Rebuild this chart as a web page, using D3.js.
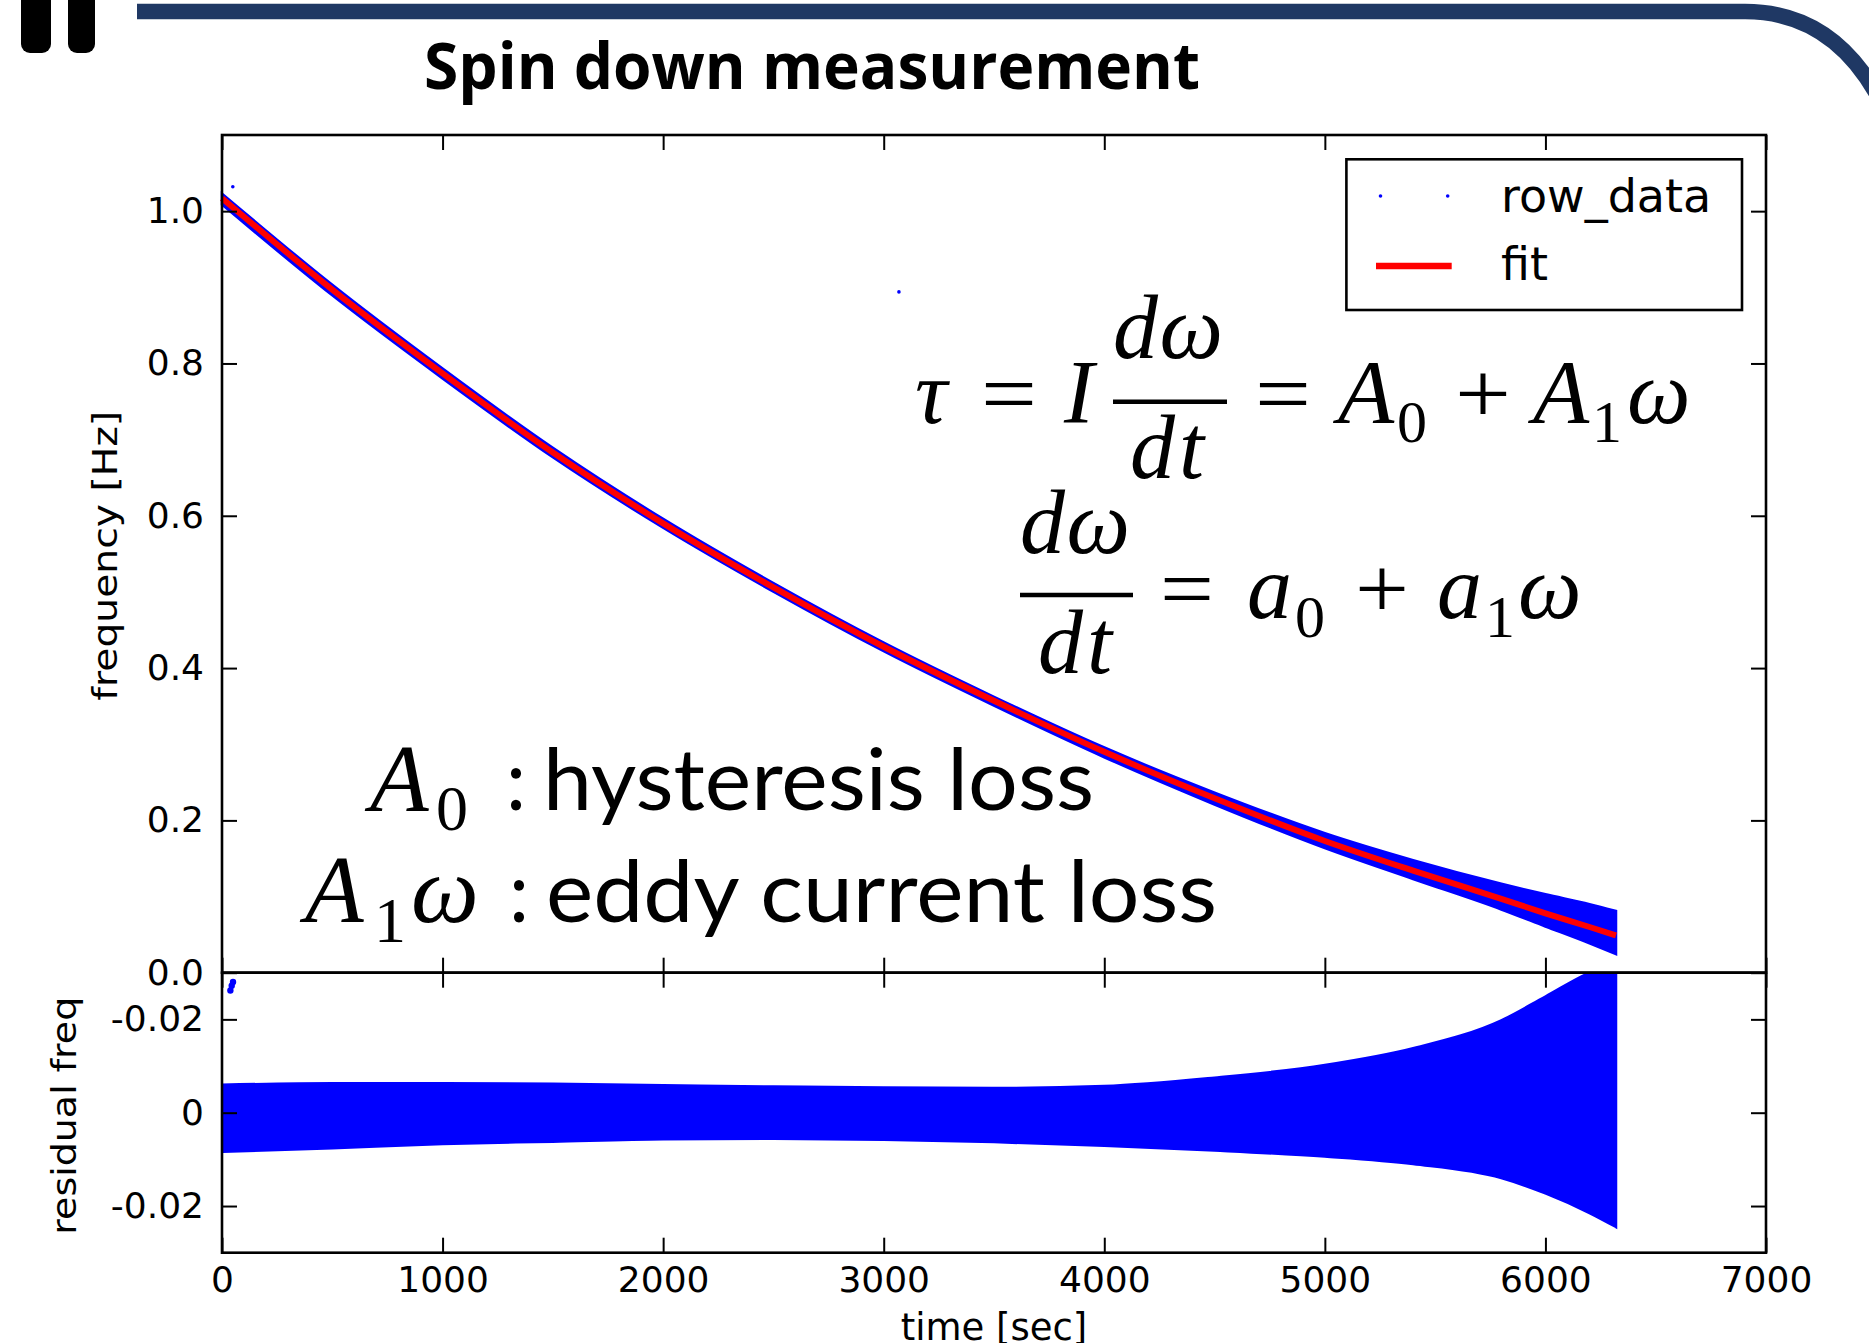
<!DOCTYPE html>
<html>
<head>
<meta charset="utf-8">
<script src="https://cdn.jsdelivr.net/npm/d3@7"></script>
<style>
  html, body { margin: 0; padding: 0; background: #fff; overflow: hidden; }
  svg { display: block; }
  text { font-family: "DejaVu Sans", sans-serif; fill: #000; }
</style>
</head>
<body>
<svg id="chart" width="1869" height="1343"></svg>
<script>
// ---- values ----
const timeSec  = [0, 500, 1000, 1500, 2000, 2500, 3000, 3500, 4000, 4500, 5000, 5400, 5800, 6000, 6200, 6320];
const fitFreq  = [1.017, 0.897, 0.787, 0.683, 0.590, 0.506, 0.428, 0.357, 0.290, 0.229, 0.173, 0.134, 0.097, 0.078, 0.060, 0.049];
// residual envelope (upper / lower edge of the blue band)
const resHigh  = [0.0060, 0.0063, 0.0063, 0.0062, 0.0059, 0.0056, 0.0054, 0.0053, 0.0057, 0.0075, 0.0102, 0.0138, 0.0198, 0.0249, 0.0300, 0.0320];
const resLow   = [-0.0084, -0.0076, -0.0067, -0.0062, -0.0057, -0.0056, -0.0058, -0.0063, -0.0071, -0.0081, -0.0094, -0.0110, -0.0140, -0.0173, -0.0215, -0.0245];
// stray samples
const strayT    = [49, 3069];
const strayFreq = [1.032, 0.894];
const strayResT = [38, 44, 50];
const strayRes  = [0.0262, 0.0272, 0.0280];

const timeTicks      = [0, 1000, 2000, 3000, 4000, 5000, 6000, 7000];
const freqTicks      = [0, 0.2, 0.4, 0.6, 0.8, 1.0];
const freqTickLabels = ["0.0", "0.2", "0.4", "0.6", "0.8", "1.0"];
const resTicks       = [-0.02, 0, 0.02];
const resTickLabels  = ["-0.02", "0", "-0.02"];

const svg = d3.select("#chart");
const W = 1869, H = 1343;
svg.append("rect").attr("width", W).attr("height", H).attr("fill", "#fff");

// ---- slide decoration ----
svg.append("path")
  .attr("d", "M137,11.5 L1745,11.5 Q1835,11.5 1882,104")
  .attr("fill", "none")
  .attr("stroke", "#1f3864")
  .attr("stroke-width", 15.5);
[[21, 30], [68, 27]].forEach(([x, w]) => {
  svg.append("rect").attr("x", x).attr("y", -20).attr("width", w).attr("height", 73)
    .attr("rx", 9).attr("fill", "#000");
});

svg.append("text")
  .attr("x", 424).attr("y", 89)
  .attr("textLength", 776).attr("lengthAdjust", "spacingAndGlyphs")
  .style("font-family", "'Open Sans', sans-serif")
  .style("font-weight", 700)
  .style("font-size", "64px")
  .text("Spin down measurement");

// ---- plot geometry ----
const L = 222, R = 1766, T = 135, M = 972.7, B = 1252.7;
const x  = d3.scaleLinear().domain([0, 7000]).range([L, R]);
const yF = d3.scaleLinear().domain([0, 1.1]).range([M, T]);
const yR = d3.scaleLinear().domain([-0.03, 0.03]).range([B, M]);

const idx = d3.range(timeSec.length);

svg.append("clipPath").attr("id", "clipRes")
  .append("rect").attr("x", L).attr("y", M).attr("width", R - L).attr("height", B - M);

// main panel: data band and fit
const bandMain = d3.area()
  .x(i => x(timeSec[i]))
  .y0(i => yF(fitFreq[i] + resLow[i]))
  .y1(i => yF(fitFreq[i] + resHigh[i]))
  .curve(d3.curveMonotoneX);
svg.append("path").datum(idx)
  .attr("d", bandMain)
  .attr("fill", "#0000ff").attr("stroke", "#0000ff").attr("stroke-width", 2.5);

svg.selectAll(".strayF").data(d3.range(strayT.length)).join("circle")
  .attr("cx", i => x(strayT[i])).attr("cy", i => yF(strayFreq[i]))
  .attr("r", 1.8).attr("fill", "#0000ff");

const fitLine = d3.line()
  .x(i => x(timeSec[i]))
  .y(i => yF(fitFreq[i]))
  .curve(d3.curveMonotoneX);
svg.append("path").datum(idx)
  .attr("d", fitLine)
  .attr("fill", "none").attr("stroke", "#ff0000").attr("stroke-width", 6);

// residual panel
const bandRes = d3.area()
  .x(i => x(timeSec[i]))
  .y0(i => yR(resLow[i]))
  .y1(i => yR(resHigh[i]))
  .curve(d3.curveMonotoneX);
const resG = svg.append("g").attr("clip-path", "url(#clipRes)");
resG.append("path").datum(idx)
  .attr("d", bandRes)
  .attr("fill", "#0000ff").attr("stroke", "#0000ff").attr("stroke-width", 2.5);
resG.selectAll(".strayR").data(d3.range(strayResT.length)).join("circle")
  .attr("cx", i => x(strayResT[i])).attr("cy", i => yR(strayRes[i]))
  .attr("r", 3.2).attr("fill", "#0000ff");

// ---- axes ----
const TK = 15;
function styleAxis(g) {
  g.select(".domain").remove();
  g.selectAll(".tick line").attr("stroke", "#000").attr("stroke-width", 2);
  g.selectAll(".tick text")
    .style("font-family", "'DejaVu Sans', sans-serif")
    .style("font-size", "36px")
    .attr("fill", "#1a1a1a");
}

svg.append("g").attr("transform", `translate(${L},0)`)
  .call(d3.axisLeft(yF).tickValues(freqTicks).tickSize(-TK).tickPadding(18)
    .tickFormat((d, i) => freqTickLabels[i]))
  .call(styleAxis);
svg.append("g").attr("transform", `translate(${R},0)`)
  .call(d3.axisRight(yF).tickValues(freqTicks).tickSize(-TK).tickFormat(""))
  .call(styleAxis);
svg.append("g").attr("transform", `translate(0,${T})`)
  .call(d3.axisTop(x).tickValues(timeTicks).tickSize(-TK).tickFormat(""))
  .call(styleAxis);
svg.append("g").attr("transform", `translate(0,${M})`)
  .call(d3.axisBottom(x).tickValues(timeTicks).tickSize(-TK).tickFormat(""))
  .call(styleAxis);

svg.append("g").attr("transform", `translate(${L},0)`)
  .call(d3.axisLeft(yR).tickValues(resTicks).tickSize(-TK).tickPadding(18)
    .tickFormat((d, i) => resTickLabels[i]))
  .call(styleAxis);
svg.append("g").attr("transform", `translate(${R},0)`)
  .call(d3.axisRight(yR).tickValues(resTicks).tickSize(-TK).tickFormat(""))
  .call(styleAxis);
svg.append("g").attr("transform", `translate(0,${M})`)
  .call(d3.axisTop(x).tickValues(timeTicks).tickSize(-TK).tickFormat(""))
  .call(styleAxis);
svg.append("g").attr("transform", `translate(0,${B})`)
  .call(d3.axisBottom(x).tickValues(timeTicks).tickSize(-TK).tickPadding(14)
    .tickFormat(d3.format("d")))
  .call(styleAxis);

// frames
[[T, M], [M, B]].forEach(([y0, y1]) => {
  svg.append("rect").attr("x", L).attr("y", y0).attr("width", R - L).attr("height", y1 - y0)
    .attr("fill", "none").attr("stroke", "#000").attr("stroke-width", 2.6);
});

// axis labels
svg.append("text")
  .attr("transform", `translate(117,${(T + M) / 2 + 2}) rotate(-90)`)
  .attr("text-anchor", "middle")
  .attr("textLength", 290).attr("lengthAdjust", "spacingAndGlyphs")
  .style("font-size", "34px").attr("fill", "#1a1a1a")
  .text("frequency [Hz]");
svg.append("text")
  .attr("transform", `translate(76,${(M + B) / 2 + 3}) rotate(-90)`)
  .attr("text-anchor", "middle")
  .attr("textLength", 238).attr("lengthAdjust", "spacingAndGlyphs")
  .style("font-size", "34px").attr("fill", "#1a1a1a")
  .text("residual freq");
svg.append("text")
  .attr("x", (L + R) / 2).attr("y", 1340)
  .attr("text-anchor", "middle")
  .style("font-size", "37px").attr("fill", "#1a1a1a")
  .text("time [sec]");

// ---- legend ----
const leg = svg.append("g");
leg.append("rect").attr("x", 1346.4).attr("y", 159.3).attr("width", 395.6).attr("height", 150.7)
  .attr("fill", "#fff").attr("stroke", "#000").attr("stroke-width", 2.6);
[1380.5, 1447.7].forEach(cx => leg.append("circle").attr("cx", cx).attr("cy", 196).attr("r", 1.8).attr("fill", "#0000ff"));
leg.append("line").attr("x1", 1376).attr("x2", 1451.7).attr("y1", 266).attr("y2", 266)
  .attr("stroke", "#ff0000").attr("stroke-width", 6.5);
leg.append("text").attr("x", 1501).attr("y", 211.7).style("font-size", "46px").attr("fill", "#1a1a1a").text("row_data");
leg.append("text").attr("x", 1501).attr("y", 280).style("font-size", "46px").attr("fill", "#1a1a1a").text("fit");

// ---- equations and notes ----
const MATH = "'Liberation Serif', 'DejaVu Serif', serif";
const SANS = "Lato, 'Open Sans', sans-serif";
function put(str, px, py, size, opt = {}) {
  const t = svg.append("text").attr("x", px).attr("y", py)
    .style("font-family", opt.sans ? SANS : MATH)
    .style("font-style", opt.italic ? "italic" : "normal")
    .style("font-size", size + "px")
    .text(str);
  if (opt.len) t.attr("textLength", opt.len).attr("lengthAdjust", opt.adj || "spacingAndGlyphs");
  return t;
}
function bar(x1, x2, yy) {
  svg.append("line").attr("x1", x1).attr("x2", x2).attr("y1", yy).attr("y2", yy)
    .attr("stroke", "#000").attr("stroke-width", 4.5);
}

// tau = I dw/dt = A0 + A1 w
put("τ", 915, 423, 90, {italic: true});
put("=", 981, 423, 86, {len: 56});
put("I", 1064, 423, 90, {italic: true});
put("dω", 1113, 358, 90, {italic: true, len: 110, adj: "spacing"});
bar(1113, 1227, 401.7);
put("dt", 1130, 478, 90, {italic: true, len: 74, adj: "spacing"});
put("=", 1255, 423, 86, {len: 56});
put("A", 1338, 423, 92, {italic: true});
put("0", 1397, 441.5, 60);
put("+", 1455, 423, 86, {len: 56});
put("A", 1533, 423, 92, {italic: true});
put("1", 1592, 441.5, 60);
put("ω", 1627, 423, 90, {italic: true});

// dw/dt = a0 + a1 w
put("dω", 1020, 553, 90, {italic: true, len: 110, adj: "spacing"});
bar(1020, 1133, 595);
put("dt", 1038, 673, 90, {italic: true, len: 74, adj: "spacing"});
put("=", 1160, 618, 86, {len: 54});
put("a", 1247, 618, 90, {italic: true});
put("0", 1295, 636.7, 60);
put("+", 1355, 618, 86, {len: 54});
put("a", 1437, 618, 90, {italic: true});
put("1", 1485, 636.7, 60);
put("ω", 1518, 618, 90, {italic: true});

// loss notes
put("A", 370, 811, 96, {italic: true});
put("0", 436, 830, 64);
put(":", 506, 810, 86, {sans: true, len: 20});
put("hysteresis loss", 543, 810, 86, {sans: true, len: 551});
put("A", 305, 921.7, 96, {italic: true});
put("1", 374, 941.7, 64);
put("ω", 411, 921.7, 96, {italic: true});
put(":", 509, 921.7, 86, {sans: true, len: 20});
put("eddy current loss", 546, 921.7, 86, {sans: true, len: 671});
</script>
</body>
</html>
